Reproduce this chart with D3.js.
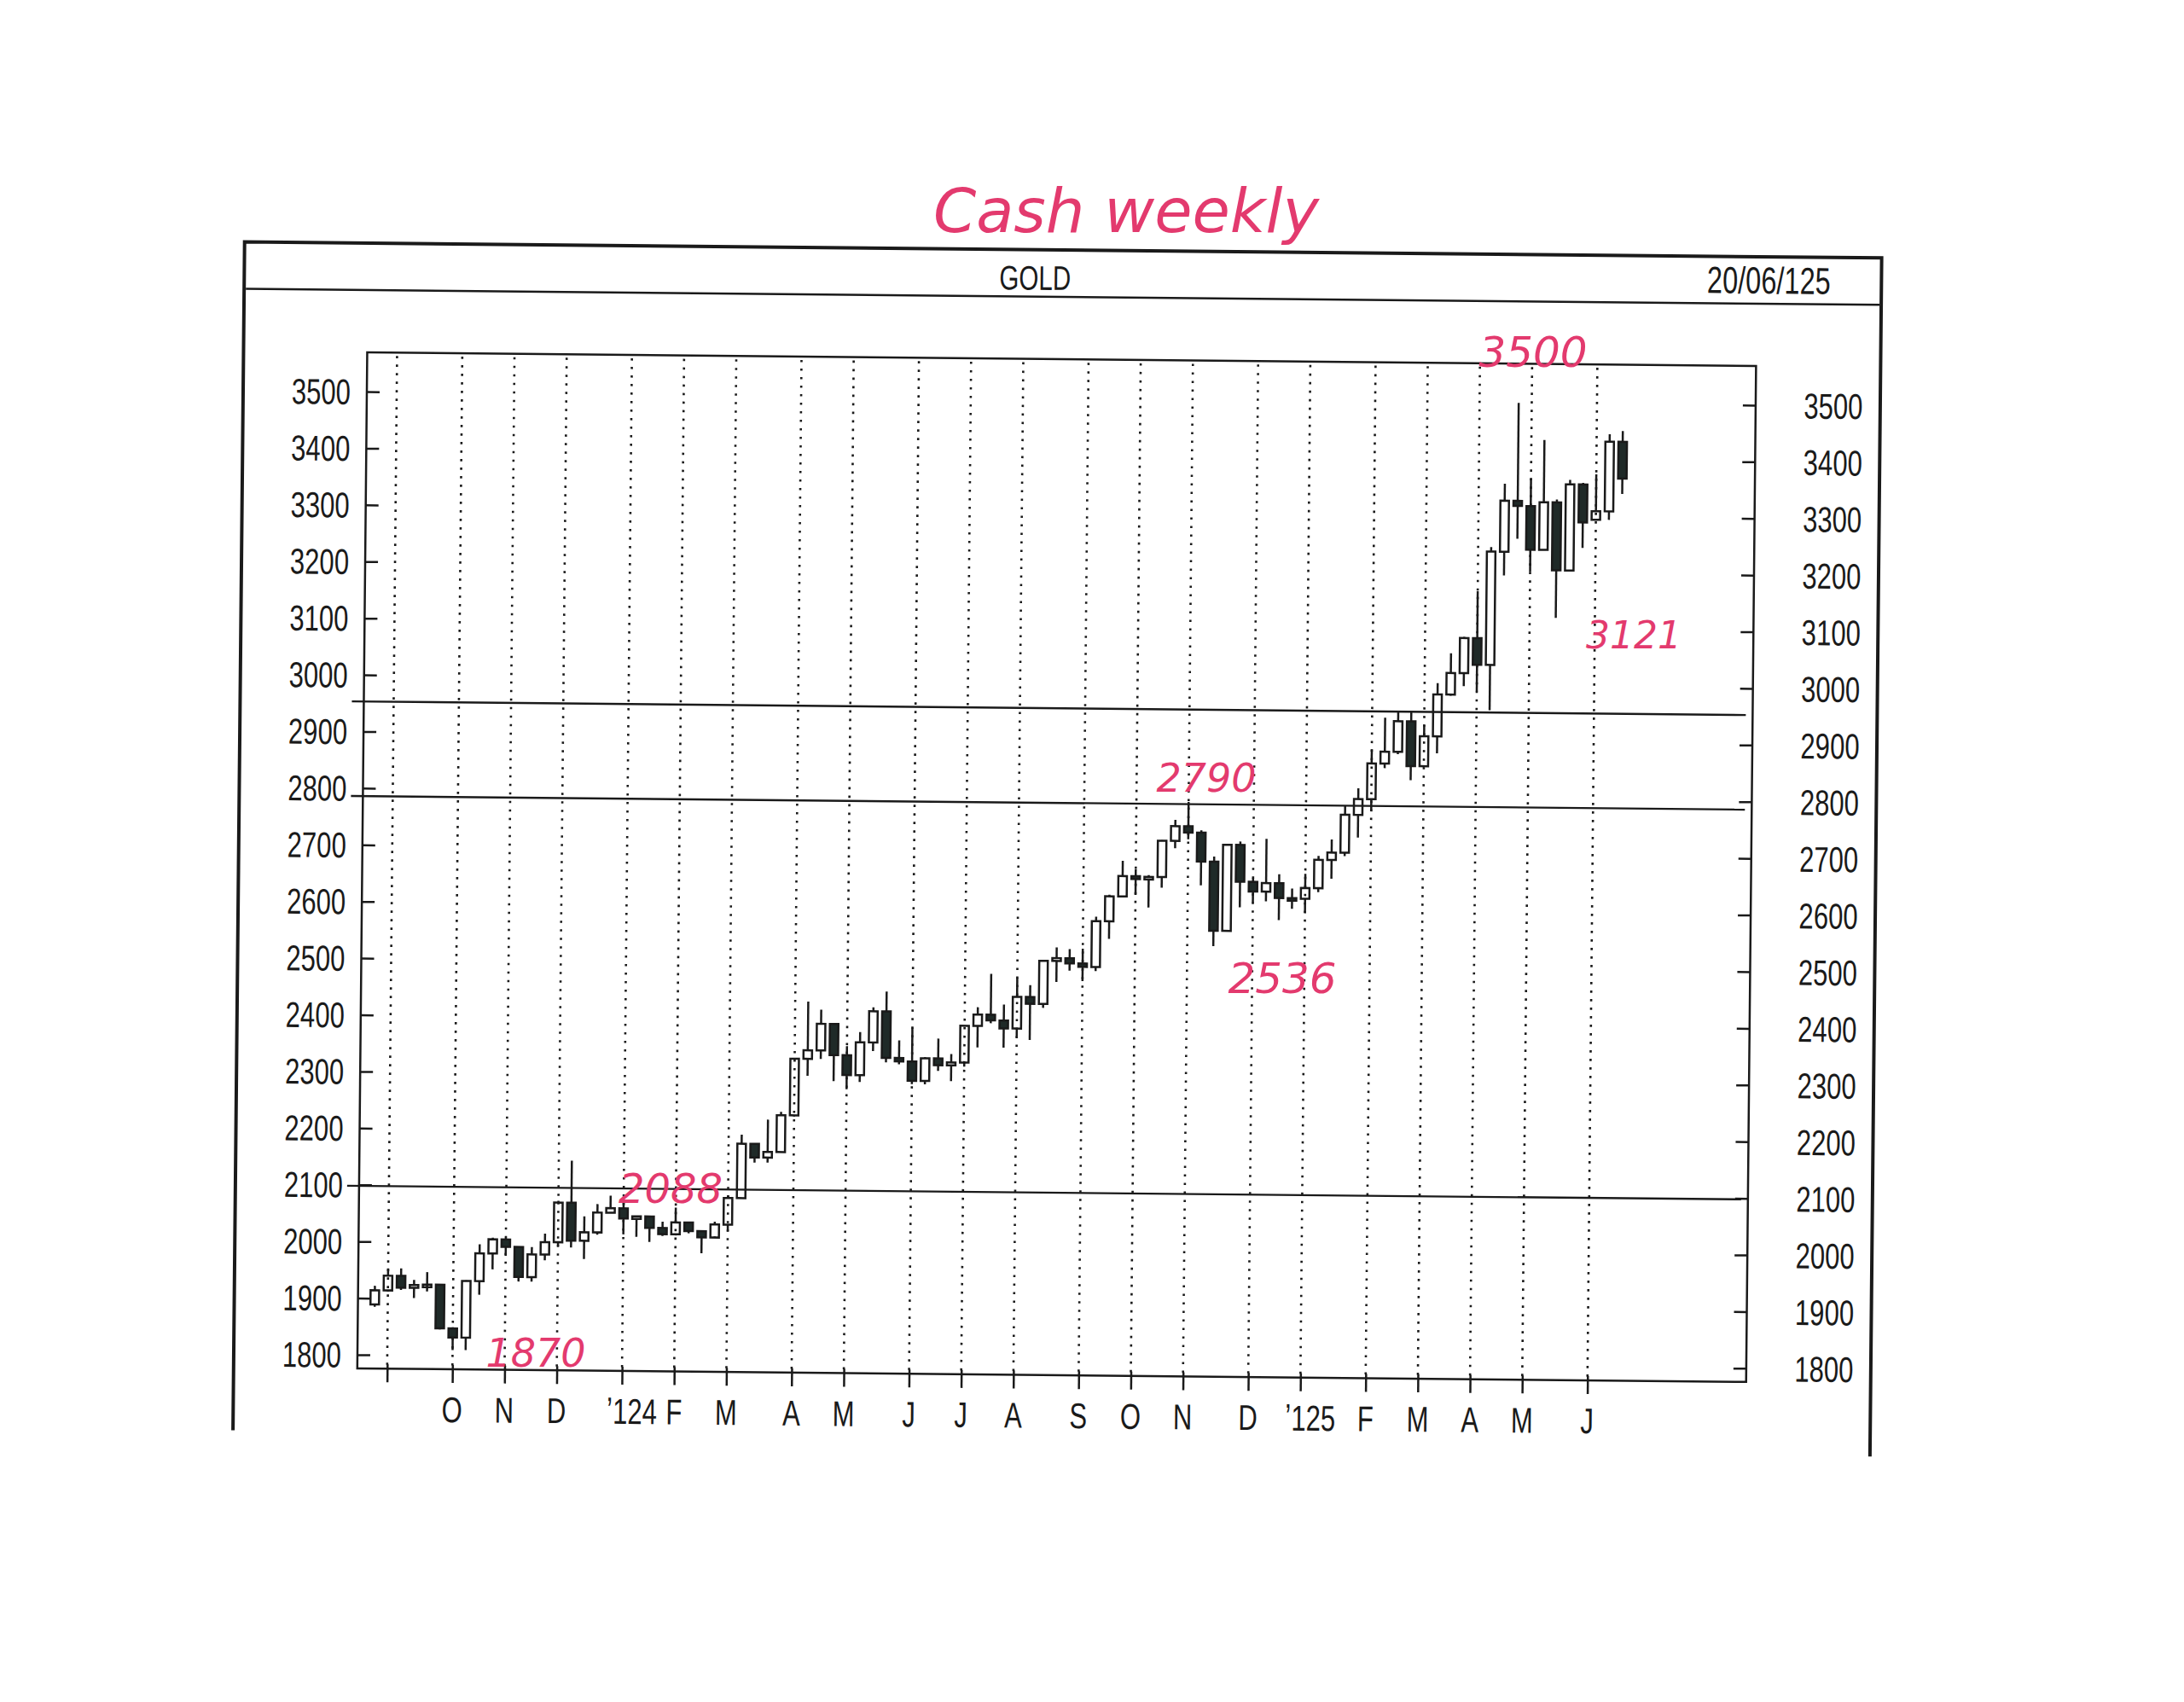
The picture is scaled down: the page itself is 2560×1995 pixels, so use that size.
<!DOCTYPE html>
<html><head><meta charset="utf-8">
<script src="https://cdn.jsdelivr.net/npm/d3@7"></script>
<style>body{margin:0;background:#fff}</style>
</head><body>
<script>
// week index (0 = week ending 1 Sep 2023), weekly OHLC
const weekIdx = d3.range(-1, 95);
const opens  = [1889,1914,1940,1919,1924,1925,1848,1832,1932,1981,2006,1993,1940,1980,2002,2072,2005,2020,2055,2063,2045,2049,2029,2018,2039,2024,2013,2036,2083,2179,2155,2165,2230,2330,2345,2392,2337,2302,2360,2415,2333,2327,2293,2333,2321,2326,2391,2411,2401,2387,2443,2431,2507,2512,2503,2497,2578,2622,2658,2653,2657,2721,2747,2736,2685,2563,2715,2650,2633,2648,2622,2621,2640,2690,2703,2770,2798,2861,2882,2936,2857,2910,2984,3022,3084,3037,3237,3327,3318,3241,3325,3205,3357,3295,3310,3433];
const highs  = [1922,1953,1953,1933,1947,1926,1850,1933,1997,2009,2009,1993,1993,2017,2075,2146,2048,2070,2085,2079,2050,2050,2040,2065,2040,2024,2041,2088,2195,2180,2222,2236,2330,2431,2417,2392,2353,2378,2422,2450,2364,2387,2335,2368,2341,2391,2424,2483,2429,2477,2464,2508,2531,2528,2529,2586,2625,2685,2670,2660,2722,2758,2790,2740,2694,2716,2721,2657,2726,2664,2639,2665,2697,2726,2786,2817,2886,2942,2954,2954,2930,3004,3057,3086,3167,3245,3357,3500,3367,3435,3330,3365,3360,3375,3446,3452];
const lows   = [1885,1912,1915,1901,1913,1846,1810,1810,1908,1953,1977,1932,1932,1970,1995,1993,1973,2016,2055,2017,2013,2004,2015,2016,2020,1985,2015,2024,2083,2146,2146,2165,2228,2300,2330,2291,2277,2290,2345,2325,2322,2287,2287,2311,2293,2319,2353,2396,2353,2371,2367,2424,2470,2490,2472,2490,2547,2622,2625,2603,2638,2708,2724,2643,2536,2563,2605,2613,2616,2583,2603,2596,2633,2657,2697,2730,2777,2853,2878,2832,2857,2880,2982,2999,2990,2957,3195,3260,3202,3241,3121,3205,3245,3295,3295,3341];
const closes = [1914,1940,1919,1924,1925,1848,1832,1932,1981,2006,1993,1940,1980,2002,2072,2005,2020,2055,2063,2045,2049,2029,2018,2039,2024,2013,2036,2083,2179,2155,2165,2230,2330,2345,2392,2337,2302,2360,2415,2333,2327,2293,2333,2321,2326,2391,2411,2401,2387,2443,2431,2507,2512,2503,2497,2578,2622,2658,2653,2657,2721,2747,2736,2685,2563,2715,2650,2633,2648,2622,2621,2640,2690,2703,2770,2798,2861,2882,2936,2857,2910,2984,3022,3084,3037,3237,3327,3318,3241,3325,3205,3357,3290,3310,3433,3368];
const priceTicks = [1800,1900,2000,2100,2200,2300,2400,2500,2600,2700,2800,2900,3000,3100,3200,3300,3400,3500];
const monthTickIdx = [0,5,9,13,18,22,26,31,35,40,44,48,53,57,61,66,70,75,79,83,87,92];
const monthLabels  = ["","O","N","D","ʼ124","F","M","A","M","J","J","A","S","O","N","D","ʼ125","F","M","A","M","J"];
const hLevels = [2098, 2786, 2953];
const notes = [
  {t:"Cash weekly", x:1320, y:272, s:72},
  {t:"3500", x:1797, y:430, s:50},
  {t:"3121", x:1915, y:760, s:44},
  {t:"2790", x:1414, y:928, s:46},
  {t:"2536", x:1503, y:1164, s:50},
  {t:"2088", x:786, y:1410, s:48},
  {t:"1870", x:628, y:1602, s:46}
];

const W=2560,H=1995;
const svg=d3.select("body").append("svg").attr("width",W).attr("height",H);
svg.append("rect").attr("width",W).attr("height",H).attr("fill","#fff");
const g=svg.append("g").attr("transform","rotate(0.56,430,459)");
const ink="#1a1a1a";
const L=430,R=2058,T=413,B=1604;
const x=d3.scaleLinear().domain([0,92]).range([465,1872]);
const y=d3.scaleLinear().domain([1800,3500]).range([1588,459]);
const font="'Liberation Sans',sans-serif";
function label(sel,xv,yv,anchor,size){
  sel.attr("transform",(d,i)=>`translate(${xv(d,i)},${yv(d,i)}) scale(0.74,1)`)
    .attr("text-anchor",anchor).attr("font-family",font).attr("font-size",size).attr("fill",ink);
  return sel;
}

// outer frame (left, top, right)
g.append("path").attr("d","M285,1678 L285,285 L2204,285 L2204,1690").attr("fill","none").attr("stroke",ink).attr("stroke-width",4);
g.append("line").attr("x1",287).attr("x2",2202).attr("y1",340).attr("y2",340).attr("stroke",ink).attr("stroke-width",2.5);
label(g.append("text").datum(0),()=>1212,()=>332,"middle",40).text("GOLD");
label(g.append("text").datum(0),()=>2072,()=>328,"middle",44).text("20/06/125");

// plot frame
g.append("rect").attr("x",L).attr("y",T).attr("width",R-L).attr("height",B-T).attr("fill","none").attr("stroke",ink).attr("stroke-width",2.5);

// dotted vertical grid
g.selectAll(".vg").data(monthTickIdx).join("line")
  .attr("x1",d=>x(d)).attr("x2",d=>x(d)).attr("y1",T+4).attr("y2",B)
  .attr("stroke",ink).attr("stroke-width",2.6).attr("stroke-dasharray","2.6,7.4");

// axes
const yl=g.append("g").attr("transform",`translate(${L},0)`).call(d3.axisRight(y).tickValues(priceTicks).tickSize(15).tickFormat(""));
const yr=g.append("g").attr("transform",`translate(${R},0)`).call(d3.axisLeft(y).tickValues(priceTicks).tickSize(15).tickFormat(""));
[yl,yr].forEach(a=>{a.select(".domain").remove();a.selectAll("line").attr("stroke",ink).attr("stroke-width",2.5);});
label(g.selectAll(".yll").data(priceTicks).join("text"),()=>411,d=>y(d)+15,"end",42).text(d=>d);
label(g.selectAll(".ylr").data(priceTicks).join("text"),()=>2149,d=>y(d)+15,"middle",42).text(d=>d);
const xa=g.append("g").attr("transform",`translate(0,${B})`).call(d3.axisBottom(x).tickValues(monthTickIdx).tickSize(16).tickFormat(""));
xa.select(".domain").remove();
xa.selectAll("line").attr("y1",-5).attr("stroke",ink).attr("stroke-width",2.5);
label(g.selectAll(".ml").data(monthTickIdx).join("text"),
  (d,i)=>x(d)+(monthLabels[i].length>1?12:0),()=>1666,"middle",42).text((d,i)=>monthLabels[i]);

// horizontal levels
g.selectAll(".hl").data(hLevels).join("line").attr("x1",L-14).attr("x2",R-8)
  .attr("y1",d=>y(d)).attr("y2",d=>y(d)).attr("stroke",ink).attr("stroke-width",2.4);

// candles
const bw=10;
const cg=g.append("g");
weekIdx.forEach((w,i)=>{
  const o=opens[i],c=closes[i],h=highs[i],l=lows[i];
  const up=c>=o;
  const top=y(Math.max(o,c)),bot=y(Math.min(o,c));
  cg.append("line").attr("x1",x(w)).attr("x2",x(w)).attr("y1",y(h)).attr("y2",top).attr("stroke",ink).attr("stroke-width",2.5);
  cg.append("line").attr("x1",x(w)).attr("x2",x(w)).attr("y1",bot).attr("y2",y(l)).attr("stroke",ink).attr("stroke-width",2.5);
  cg.append("rect").attr("x",x(w)-bw/2).attr("y",top).attr("width",bw).attr("height",Math.max(bot-top,3))
    .attr("fill",up?"none":"#1f2a28").attr("stroke",ink).attr("stroke-width",2.5);
});

// handwritten notes
svg.selectAll(".note").data(notes).join("text").attr("x",d=>d.x).attr("y",d=>d.y)
  .attr("text-anchor","middle").attr("font-family","'DejaVu Sans',sans-serif").attr("font-style","italic")
  .attr("font-size",d=>d.s).attr("fill","#e33a6e").text(d=>d.t);
</script>
</body></html>
